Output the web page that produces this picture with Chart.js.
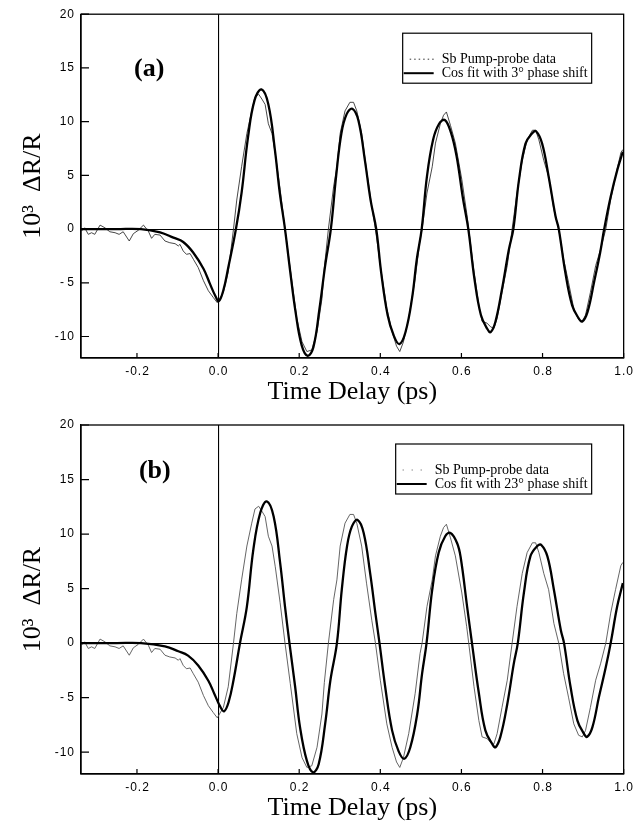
<!DOCTYPE html>
<html>
<head>
<meta charset="utf-8">
<script src="https://cdn.jsdelivr.net/npm/chart.js@4.4.0/dist/chart.umd.min.js"></script>
<style>
  body { margin: 0; background: #fff; }
  .panel { position: absolute; left: 0; width: 639px; }
</style>
</head>
<body>
<div class="panel" style="top:0;height:408px"><canvas id="chartA" width="639" height="408"></canvas></div>
<div class="panel" style="top:408px;height:416px"><canvas id="chartB" width="639" height="416"></canvas></div>
<script>
// measured pump-probe trace (same data in both panels)
const dataT = [-0.337, -0.329, -0.320, -0.312, -0.304, -0.291, -0.279, -0.267, -0.254, -0.244,
  -0.234, -0.219, -0.209, -0.197, -0.184, -0.172, -0.164, -0.156, -0.143, -0.131,
  -0.119, -0.106, -0.098, -0.094, -0.086, -0.078, -0.069, -0.061, -0.049, -0.036,
  -0.024, -0.012, -0.002, 0.013, 0.025, 0.038, 0.046, 0.058, 0.071, 0.083,
  0.091, 0.100, 0.108, 0.116, 0.124, 0.133, 0.141, 0.153, 0.165, 0.178,
  0.194, 0.207, 0.219, 0.231, 0.244, 0.256, 0.262, 0.272, 0.285, 0.293,
  0.301, 0.313, 0.325, 0.334, 0.342, 0.354, 0.366, 0.379, 0.388, 0.400,
  0.416, 0.429, 0.440, 0.448, 0.457, 0.470, 0.486, 0.498, 0.503, 0.515,
  0.528, 0.536, 0.548, 0.556, 0.563, 0.573, 0.585, 0.601, 0.613, 0.618,
  0.631, 0.643, 0.651, 0.663, 0.672, 0.680, 0.688, 0.700, 0.713, 0.725,
  0.737, 0.750, 0.762, 0.775, 0.783, 0.791, 0.803, 0.815, 0.828, 0.840,
  0.852, 0.864, 0.877, 0.889, 0.898, 0.906, 0.918, 0.931, 0.943, 0.956,
  0.968, 0.980, 0.993, 0.998];
const dataV = [-0.19, 0.12, -0.49, -0.34, -0.49, 0.37, 0.12, -0.25, -0.34, -0.49,
  -0.25, -1.11, -0.43, -0.12, 0.37, -0.19, -0.86, -0.49, -0.56, -1.11,
  -1.27, -1.36, -1.57, -1.42, -2.04, -2.35, -2.28, -2.81, -3.58, -4.81,
  -5.74, -6.36, -6.85, -5.9, -4.0, 0, 2.7, 5.8, 8.9, 11.0,
  12.3, 12.55, 12.1, 11.6, 9.8, 8.9, 7.0, 3.7, 0, -3.7,
  -8.3, -10.5, -11.4, -11.25, -9.55, -6.5, -3.6, 0, 4.0, 5.8,
  8.9, 11.0, 11.8, 11.8, 11.0, 8.9, 5.5, 2.1, 0, -3.4,
  -7.4, -9.55, -10.9, -11.4, -10.5, -8.3, -4.6, -0.95, 0, 3.35,
  5.8, 8.0, 9.8, 10.6, 10.9, 9.65, 8.0, 4.6, 1.5, 0,
  -4.0, -7.1, -8.6, -8.75, -9.1, -9.25, -8.3, -5.9, -3.4, 0,
  3.35, 6.4, 8.3, 9.2, 9.2, 8.3, 6.4, 4.9, 1.8, 0,
  -2.8, -4.95, -7.4, -8.45, -8.6, -8.0, -5.9, -3.4, -1.9, 0,
  2.75, 4.9, 7.1, 7.4];

// cosine fit, 3 degree phase shift (panel a)
const fitAT = [-0.338, -0.25, -0.19, -0.143, -0.110, -0.086, -0.061, -0.036, -0.020, -0.007,
  0.002, 0.013, 0.025, 0.044, 0.058, 0.074, 0.090, 0.107, 0.124, 0.140,
  0.152, 0.165, 0.178, 0.191, 0.206, 0.221, 0.235, 0.250, 0.264, 0.278,
  0.291, 0.304, 0.317, 0.331, 0.346, 0.362, 0.376, 0.390, 0.402, 0.418,
  0.433, 0.447, 0.462, 0.478, 0.490, 0.502, 0.515, 0.530, 0.545, 0.559,
  0.574, 0.588, 0.604, 0.617, 0.632, 0.648, 0.664, 0.672, 0.684, 0.700,
  0.717, 0.728, 0.742, 0.758, 0.774, 0.784, 0.799, 0.815, 0.832, 0.840,
  0.856, 0.873, 0.889, 0.898, 0.911, 0.927, 0.942, 0.952, 0.968, 0.985, 0.998];
const fitAV = [0, 0, 0, -0.3, -0.8, -1.2, -2.2, -3.7, -5.1, -6.2,
  -6.7, -5.7, -3.6, 0, 3.4, 8.6, 12.0, 13.0, 11.6, 7.4,
  3.4, 0, -4.0, -7.7, -10.8, -11.8, -11.0, -7.4, -3.4, 0,
  4.9, 8.9, 10.7, 11.2, 10.1, 6.4, 2.7, 0, -4.0, -8.0,
  -9.9, -10.7, -9.6, -6.5, -2.8, 0, 4.9, 8.3, 9.8, 10.15,
  9.0, 6.8, 2.8, 0, -4.6, -8.0, -9.3, -9.6, -8.6, -5.6,
  -1.9, 0, 4.6, 7.95, 8.9, 9.1, 7.95, 4.9, 1.2, 0,
  -4.0, -7.1, -8.3, -8.6, -7.7, -4.95, -2.2, 0, 3.0, 5.6, 7.2];

// cosine fit, 23 degree phase shift (panel b)
const fitBT = [-0.338, -0.25, -0.19, -0.131, -0.098, -0.074, -0.049, -0.024, -0.008, 0.005,
  0.015, 0.026, 0.038, 0.054, 0.071, 0.087, 0.104, 0.120, 0.137, 0.153,
  0.165, 0.176, 0.190, 0.202, 0.219, 0.234, 0.248, 0.264, 0.277, 0.293,
  0.305, 0.318, 0.330, 0.344, 0.359, 0.375, 0.388, 0.398, 0.412, 0.429,
  0.445, 0.459, 0.474, 0.491, 0.503, 0.514, 0.528, 0.544, 0.560, 0.573,
  0.589, 0.598, 0.614, 0.626, 0.643, 0.659, 0.676, 0.684, 0.696, 0.713,
  0.729, 0.739, 0.754, 0.770, 0.787, 0.797, 0.812, 0.828, 0.845, 0.853,
  0.869, 0.886, 0.902, 0.910, 0.923, 0.939, 0.956, 0.968, 0.984, 0.998];
const fitBV = [0, 0, 0, -0.3, -0.75, -1.15, -2.05, -3.45, -4.75, -5.8,
  -6.24, -5.4, -3.4, 0, 3.35, 8.6, 11.95, 13.0, 11.6, 7.35,
  3.35, 0, -4.0, -7.7, -10.8, -11.85, -11.1, -7.4, -3.4, 0,
  4.9, 8.9, 10.7, 11.3, 10.1, 6.4, 2.7, 0, -4.0, -8.0,
  -9.9, -10.6, -9.55, -6.5, -2.8, 0, 4.9, 8.3, 9.8, 10.1,
  9.2, 7.9, 3.35, 0, -4.6, -8.0, -9.25, -9.55, -8.6, -5.6,
  -1.9, 0, 4.6, 7.95, 8.9, 9.0, 7.95, 4.9, 1.2, 0,
  -4.0, -7.1, -8.3, -8.6, -7.7, -4.95, -2.2, 0, 3.35, 5.5];

const dataLabel = 'Sb Pump-probe data';
const fitLabels = ['Cos fit with 3° phase shift', 'Cos fit with 23° phase shift'];
const panelLetters = ['(a)', '(b)'];
const xTitle = 'Time Delay (ps)';
const yTitle = '10³  ΔR/R';

function toXY(ts, vs) {
  return ts.map((t, i) => ({ x: t, y: vs[i] }));
}

// spread digits a little like the printed labels
function spaced(s) {
  return s.split('').join('\u200A');
}

// box, inward ticks, panel letter and legend
const framePlugin = {
  id: 'frame',
  afterDraw(chart, args, opts) {
    const ctx = chart.ctx;
    const a = chart.chartArea;
    const x = chart.scales.x, y = chart.scales.y;
    ctx.save();
    ctx.strokeStyle = '#000';
    ctx.lineWidth = 1.3;
    ctx.strokeRect(a.left, a.top, a.right - a.left, a.bottom - a.top);

    ctx.lineWidth = 1.2;
    ctx.beginPath();
    x.ticks.forEach(t => {
      const px = x.getPixelForValue(t.value);
      ctx.moveTo(px, a.bottom);
      ctx.lineTo(px, a.bottom - 5);
    });
    y.ticks.forEach(t => {
      const py = y.getPixelForValue(t.value);
      ctx.moveTo(a.left, py);
      ctx.lineTo(a.left + 8, py);
    });
    ctx.stroke();

    ctx.fillStyle = '#000';
    ctx.font = 'bold 26px "Liberation Serif"';
    ctx.textAlign = 'center';
    ctx.textBaseline = 'middle';
    ctx.fillText(opts.letter, x.getPixelForValue(opts.letterAt[0]), y.getPixelForValue(opts.letterAt[1]));

    // legend
    const ds = chart.data.datasets;
    ctx.font = '14px "Liberation Serif"';
    ctx.textAlign = 'left';
    const textW = Math.max(...ds.map(d => ctx.measureText(d.label).width));
    const right = a.right - 32;
    const textX = right - 4 - textW;
    const left = textX - 39;
    const top = a.top + 19;
    ctx.lineWidth = 1.2;
    ctx.strokeStyle = '#000';
    ctx.strokeRect(left, top, right - left, 50);
    const rows = [top + 26, top + 40];
    ds.forEach((d, i) => {
      ctx.fillStyle = '#000';
      ctx.fillText(d.label, textX, rows[i]);
      ctx.beginPath();
      ctx.strokeStyle = d.borderColor;
      if (i === 0) {
        ctx.lineWidth = 1;
        ctx.setLineDash(opts.dataDash);
        ctx.moveTo(textX - 32, rows[i]);
      } else {
        ctx.lineWidth = 2;
        ctx.setLineDash([]);
        ctx.moveTo(textX - 38, rows[i]);
      }
      ctx.lineTo(textX - 8, rows[i]);
      ctx.stroke();
    });
    ctx.restore();
  }
};

const tickFont = { family: 'Liberation Sans', size: 12 };
const titleFont = { family: 'Liberation Serif', size: 26 };
const zeroOnly = c => (c.tick && Math.abs(c.tick.value) < 1e-9 ? '#000' : 'rgba(0,0,0,0)');

function makePanel(id, fitT, fitV, idx, padTop, xAxisH, letterAt, dataDash, dataColor) {
  return new Chart(document.getElementById(id), {
    type: 'line',
    data: {
      datasets: [
        {
          label: dataLabel,
          data: toXY(dataT, dataV),
          borderColor: dataColor,
          borderWidth: 0.9,
          pointRadius: 0,
          tension: 0,
          order: 1
        },
        {
          label: fitLabels[idx],
          data: toXY(fitT, fitV),
          borderColor: '#000',
          borderWidth: 2.3,
          pointRadius: 0,
          tension: 0.4,
          order: 0
        }
      ]
    },
    options: {
      responsive: false,
      animation: false,
      events: [],
      layout: { padding: { top: padTop, right: 7, bottom: 0, left: 14 } },
      plugins: {
        legend: { display: false },
        tooltip: { enabled: false },
        frame: { letter: panelLetters[idx], letterAt: letterAt, dataDash: dataDash }
      },
      scales: {
        x: {
          type: 'linear',
          min: -0.338,
          max: 1.0,
          ticks: {
            stepSize: 0.2,
            includeBounds: false,
            maxRotation: 0,
            padding: 6,
            color: '#000',
            font: tickFont,
            callback: v => spaced(v.toFixed(1))
          },
          grid: { color: zeroOnly, lineWidth: 1.1, drawTicks: false },
          border: { display: true, color: '#000', width: 1.3 },
          title: { display: true, text: xTitle, color: '#000', font: titleFont, padding: { top: 0, bottom: 0 } },
          afterFit: s => { s.height = xAxisH; }
        },
        y: {
          min: -12,
          max: 20,
          ticks: {
            stepSize: 5,
            includeBounds: false,
            padding: 7,
            color: '#000',
            font: tickFont,
            callback: v => (v < 0 && v > -10 ? '- ' + Math.abs(v) : spaced(String(v)))
          },
          grid: { color: zeroOnly, lineWidth: 1.1, drawTicks: false },
          border: { display: true, color: '#000', width: 1.3 },
          title: { display: true, text: yTitle, color: '#000', font: titleFont, padding: { top: 4, bottom: 0 } },
          afterFit: s => { s.width = 67; }
        }
      }
    },
    plugins: [framePlugin]
  });
}

makePanel('chartA', fitAT, fitAV, 0, 6, 50, [-0.17, 14.9], [1.5, 3], '#333');
makePanel('chartB', fitBT, fitBV, 1, 17, 50, [-0.156, 15.8], [1, 8], '#555');
</script>
</body>
</html>
